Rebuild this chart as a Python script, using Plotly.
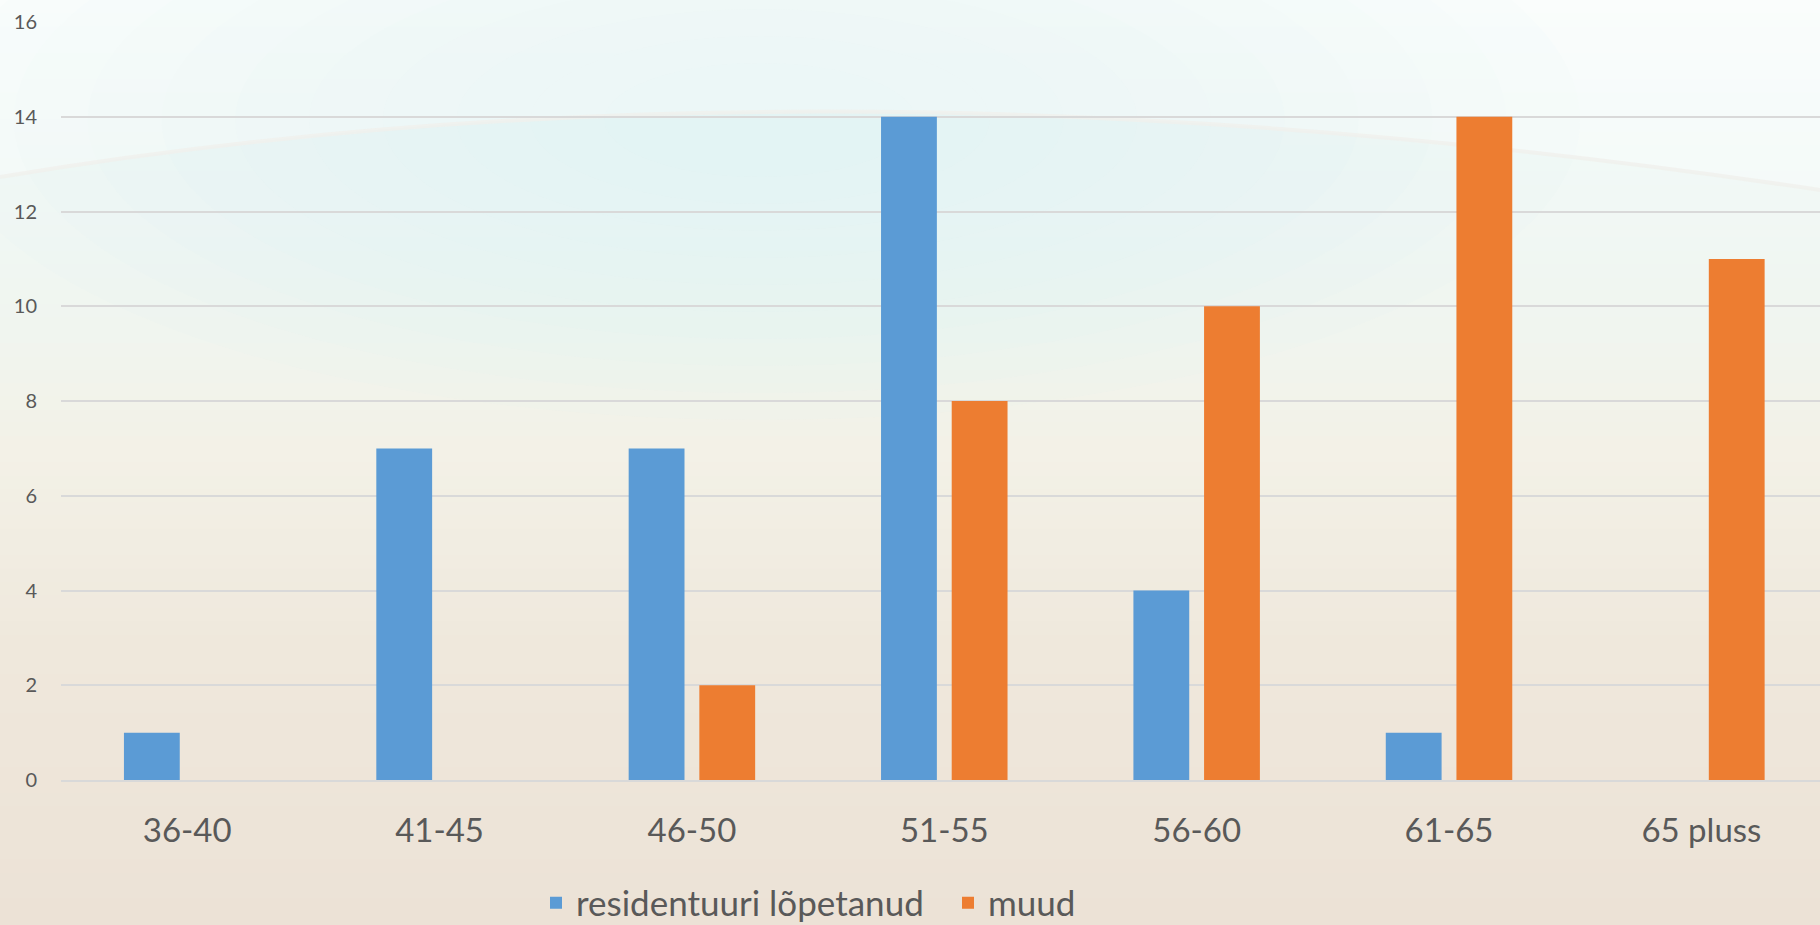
import plotly.graph_objects as go

categories = ["36-40", "41-45", "46-50", "51-55", "56-60", "61-65", "65 pluss"]
residentuur = [1, 7, 7, 14, 4, 1, 0]
muud = [0, 0, 2, 8, 10, 14, 11]
series_names = ["residentuuri lõpetanud", "muud"]
y_ticks = [0, 2, 4, 6, 8, 10, 12, 14, 16]

W, H = 1820, 925
ML, MR, MT, MB = 61, 0, 22, 145
PW, PH = W - ML - MR, H - MT - MB


def px(x):
    return (x - ML) / PW


def py(y):
    return (H - MB - y) / PH


def hex2rgb(h):
    h = h.lstrip("#")
    return tuple(int(h[i:i + 2], 16) for i in (0, 2, 4))


stops = [(0, "#f8fcfb"), (150, "#f1f9f7"), (330, "#f0f5ef"), (450, "#f3f1e7"),
         (650, "#efe8dc"), (925, "#ece2d6")]


def color_at(y):
    for (y0, c0), (y1, c1) in zip(stops[:-1], stops[1:]):
        if y0 <= y <= y1:
            t = (y - y0) / (y1 - y0)
            a, b = hex2rgb(c0), hex2rgb(c1)
            return "rgb(%d,%d,%d)" % tuple(round(a[i] + (b[i] - a[i]) * t) for i in range(3))
    return stops[-1][1]


shapes = []
nb = 70
step = H / nb
for i in range(nb):
    y0 = i * step
    y1 = (i + 1) * step + 1
    shapes.append(dict(type="rect", xref="paper", yref="paper", layer="below",
                       x0=px(0), x1=px(W), y0=py(y1), y1=py(y0),
                       fillcolor=color_at((y0 + y1) / 2), line=dict(width=0)))

# soft cyan glow near top centre (concentric translucent ellipses)
gx, gy = 760, 120
for k in range(10):
    f = 1 - k * 0.09
    rx, ry = 820 * f, 300 * f
    shapes.append(dict(type="circle", xref="paper", yref="paper", layer="below",
                       x0=px(gx - rx), x1=px(gx + rx), y0=py(gy + ry), y1=py(gy - ry),
                       fillcolor="rgba(226,247,247,0.09)", line=dict(width=0)))

# whitish region above the arc
ax0, ay0, cx, cy, ax1, ay1 = 0, 177, 820, 40, 1820, 190
shapes.append(dict(type="path", xref="paper", yref="paper", layer="below",
                   path=("M %f,%f Q %f,%f %f,%f L %f,%f L %f,%f Z" % (
                       px(ax0), py(ay0), px(cx), py(cy), px(ax1), py(ay1),
                       px(ax1), py(0), px(ax0), py(0))),
                   fillcolor="rgba(255,255,255,0.3)", line=dict(width=0)))
shapes.append(dict(type="path", xref="paper", yref="paper", layer="below",
                   path="M %f,%f Q %f,%f %f,%f" % (px(ax0), py(ay0), px(cx), py(cy), px(ax1), py(ay1)),
                   line=dict(color="rgba(240,240,236,0.8)", width=4)))

fig = go.Figure()
fig.add_trace(go.Bar(x=categories, y=residentuur, name=series_names[0],
                     marker=dict(color="#5b9bd5", line=dict(width=0))))
fig.add_trace(go.Bar(x=categories, y=muud, name=series_names[1],
                     marker=dict(color="#ed7d31", line=dict(width=0))))

fig.update_layout(
    width=W, height=H,
    margin=dict(l=ML, r=MR, t=MT, b=MB, autoexpand=False),
    paper_bgcolor="rgba(0,0,0,0)",
    plot_bgcolor="rgba(0,0,0,0)",
    barmode="group", bargap=0.44, bargroupgap=0.21,
    font=dict(family="Lato, 'Open Sans', sans-serif", color="#595959"),
    shapes=shapes,
    showlegend=True,
    legend=dict(orientation="h", x=px(536), xanchor="left", y=py(903), yanchor="middle",
                font=dict(size=35, color="#595959"), bgcolor="rgba(0,0,0,0)",
                traceorder="normal", itemsizing="constant",
                entrywidth=367, entrywidthmode="pixels"),
    xaxis=dict(range=[-0.5, 6.47], tickfont=dict(size=33, color="#595959"), showgrid=False,
               ticks="outside", ticklen=20, tickcolor="rgba(0,0,0,0)",
               showline=True, linecolor="#d9d9d9", linewidth=2, fixedrange=True),
    yaxis=dict(range=[0, 16], tickvals=y_ticks, tickfont=dict(size=20, color="#595959"),
               showgrid=True, gridcolor="#d9d9d9", gridwidth=2,
               zeroline=False, ticks="outside", ticklen=19,
               tickcolor="rgba(0,0,0,0)", showline=False, fixedrange=True),
)

fig.write_html("out.html", config={"displayModeBar": False},
               post_script="document.body.style.margin='0';document.body.style.overflow='hidden';")
